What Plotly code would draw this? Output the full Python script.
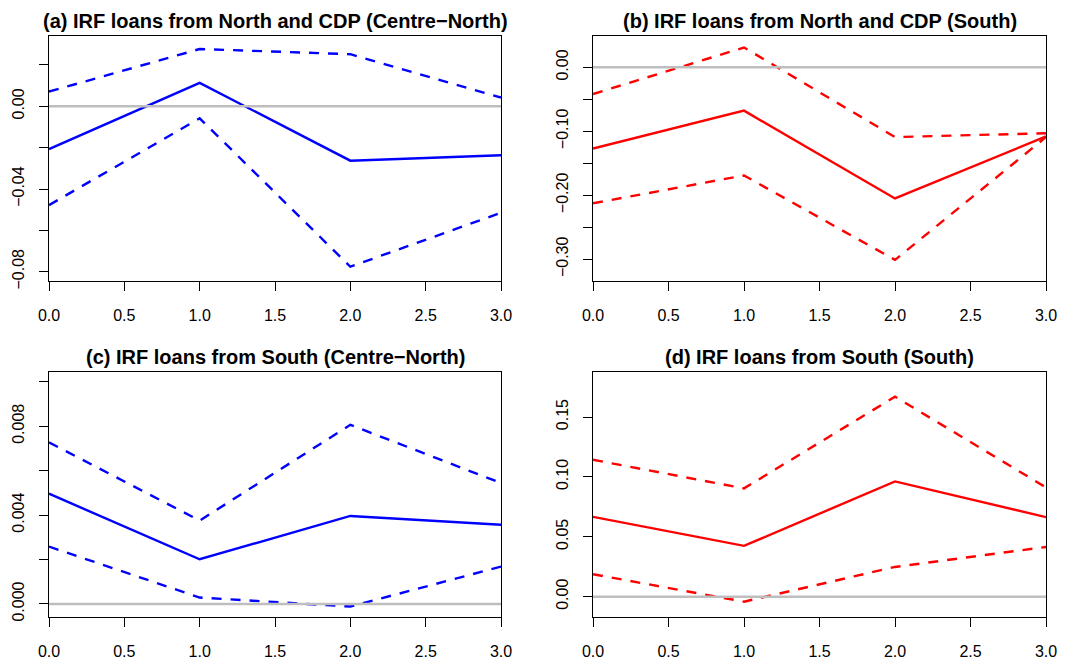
import plotly.graph_objects as go

# Impulse-response horizons
horizon = [0, 1, 2, 3]

# (a) loans from North and CDP, Centre-North response
a_irf = [-0.0207, 0.0113, -0.0263, -0.0237]
a_upper = [0.0071, 0.0277, 0.0252, 0.0042]
a_lower = [-0.0478, -0.0058, -0.0776, -0.0515]

# (b) loans from North and CDP, South response
b_irf = [-0.127, -0.0677, -0.205, -0.108]
b_upper = [-0.0417, 0.031, -0.109, -0.103]
b_lower = [-0.2125, -0.169, -0.301, -0.109]

# (c) loans from South, Centre-North response
c_irf = [0.00496, 0.00201, 0.00396, 0.00356]
c_upper = [0.00727, 0.00375, 0.00806, 0.00544]
c_lower = [0.00258, 0.000285, -0.00012, 0.00168]

# (d) loans from South, South response
d_irf = [0.0666, 0.0424, 0.0962, 0.0664]
d_upper = [0.1143, 0.0904, 0.167, 0.0912]
d_lower = [0.0187, -0.0042, 0.0248, 0.0415]

titles = [
    "(a) IRF loans from North and CDP (Centre\u2212North)",
    "(b) IRF loans from North and CDP (South)",
    "(c) IRF loans from South (Centre\u2212North)",
    "(d) IRF loans from South (South)",
]

x_ticks = [0, 0.5, 1, 1.5, 2, 2.5, 3]
x_ticklabels = ["0.0", "0.5", "1.0", "1.5", "2.0", "2.5", "3.0"]

# y ticks: every tick is drawn, only some carry a label
a_yticks = [-0.08, -0.06, -0.04, -0.02, 0.0, 0.02]
a_ylabels = ["\u22120.08", "", "\u22120.04", "", "0.00", ""]
b_yticks = [-0.30, -0.25, -0.20, -0.15, -0.10, -0.05, 0.0]
b_ylabels = ["\u22120.30", "", "\u22120.20", "", "\u22120.10", "", "0.00"]
c_yticks = [0.0, 0.002, 0.004, 0.006, 0.008, 0.010]
c_ylabels = ["0.000", "", "0.004", "", "0.008", ""]
d_yticks = [0.0, 0.05, 0.10, 0.15]
d_ylabels = ["0.00", "0.05", "0.10", "0.15"]

a_yrange = [-0.0845, 0.034]
b_yrange = [-0.334, 0.049]
c_yrange = [-0.00059, 0.01044]
d_yrange = [-0.017, 0.1876]

baseline = 0.0

BLUE = "#0000FF"
RED = "#FF0000"
GREY = "#BEBEBE"
FONT = "Liberation Sans, Arial, Helvetica, sans-serif"

W, H = 1070, 659
# plot boxes in pixels: (left, right, top, bottom)
boxes = [
    (49, 501, 36, 281),
    (593, 1046, 36, 281),
    (49, 501, 372, 617),
    (593, 1046, 372, 617),
]

panels = [
    (a_irf, a_upper, a_lower, BLUE, a_yticks, a_ylabels, a_yrange),
    (b_irf, b_upper, b_lower, RED, b_yticks, b_ylabels, b_yrange),
    (c_irf, c_upper, c_lower, BLUE, c_yticks, c_ylabels, c_yrange),
    (d_irf, d_upper, d_lower, RED, d_yticks, d_ylabels, d_yrange),
]

fig = go.Figure()
layout = {}
annotations = []
shapes = []

for i, ((irf, up, lo, col, yt, yl, yr), (l, r, t, b), title) in enumerate(
        zip(panels, boxes, titles), start=1):
    xa = "x" if i == 1 else f"x{i}"
    ya = "y" if i == 1 else f"y{i}"
    for vals, dash in ((up, "10px,9px"), (lo, "10px,9px"), (irf, "solid")):
        fig.add_trace(go.Scatter(
            x=horizon, y=vals, mode="lines", xaxis=xa, yaxis=ya,
            line=dict(color=col, width=2.4, dash=dash),
            showlegend=False, hoverinfo="skip"))

    xdom = [l / W, r / W]
    ydom = [1 - b / H, 1 - t / H]
    common = dict(showline=True, mirror=True, linecolor="black", linewidth=1,
                  ticks="outside", ticklen=9, tickwidth=1, tickcolor="black",
                  showgrid=False, zeroline=False, automargin=False,
                  tickfont=dict(family=FONT, size=16, color="black"))
    layout["xaxis" if i == 1 else f"xaxis{i}"] = dict(
        domain=xdom, range=[0, 3], anchor=ya, tickvals=x_ticks,
        ticktext=x_ticklabels, ticklabelstandoff=11, **common)
    layout["yaxis" if i == 1 else f"yaxis{i}"] = dict(
        domain=ydom, range=yr, anchor=xa, tickvals=yt, ticktext=yl,
        tickangle=-90, ticklabelstandoff=9, **common)

    annotations.append(dict(
        text=f"<b>{title}</b>", x=(xdom[0] + xdom[1]) / 2,
        y=1 - (t - 15) / H, xref="paper", yref="paper",
        xanchor="center", yanchor="middle", showarrow=False,
        font=dict(family=FONT, size=20, color="black")))

    shapes.append(dict(
        type="line", xref=f"{xa} domain", yref=ya, x0=0, x1=1,
        y0=baseline, y1=baseline, layer="above",
        line=dict(color=GREY, width=2.5)))

fig.update_layout(
    width=W, height=H, margin=dict(l=0, r=0, t=0, b=0, autoexpand=False),
    paper_bgcolor="white", plot_bgcolor="white",
    annotations=annotations, shapes=shapes, **layout)

fig.write_html("out.html")
